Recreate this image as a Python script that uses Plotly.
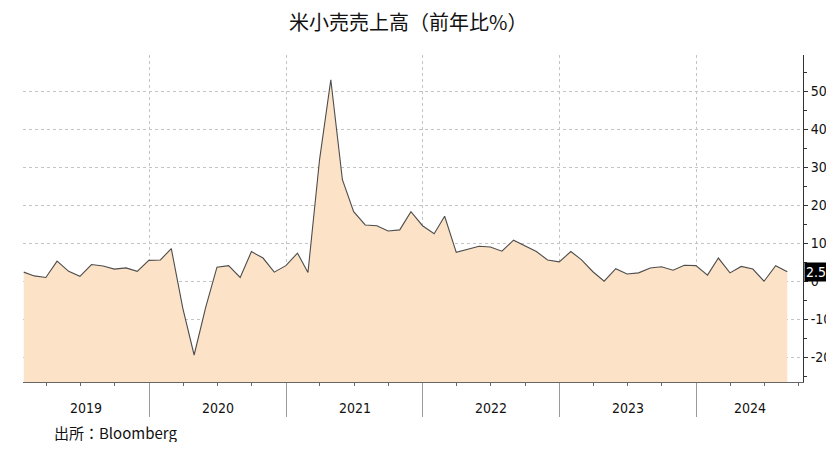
import pandas as pd
import plotly.graph_objects as go

# US retail sales, year-on-year %, monthly (month-end dates), Jan 2019 - Aug 2024
months = pd.date_range("2019-01-31", "2024-08-31", freq="ME")
yoy = [
    2.4, 1.4, 1.0, 5.3, 2.6, 1.3, 4.4, 4.0, 3.2, 3.5, 2.6, 5.5,          # 2019
    5.6, 8.6, -7.2, -19.4, -6.8, 3.7, 4.1, 1.0, 7.8, 6.1, 2.4, 4.1,      # 2020
    7.4, 2.3, 32.0, 53.0, 26.7, 18.3, 14.8, 14.6, 13.2, 13.5, 18.3, 14.6,  # 2021
    12.5, 17.1, 7.6, 8.3, 9.2, 9.0, 7.9, 10.8, 9.3, 7.8, 5.6, 5.1,      # 2022
    7.8, 5.7, 2.5, 0.0, 3.3, 1.9, 2.2, 3.5, 3.8, 2.9, 4.2, 4.1,         # 2023
    1.6, 6.1, 2.2, 3.9, 3.2, 0.0, 4.1, 2.5,                             # 2024
]
year_labels = ["2019", "2020", "2021", "2022", "2023", "2024"]
y_ticks = [-20, -10, 0, 10, 20, 30, 40, 50]
y_tick_labels = ["-20", "-10", "0", "10", "20", "30", "40", "50"]

TITLE = "米小売売上高（前年比%）"
SOURCE = "出所：Bloomberg"

Y_MIN, Y_MAX = -26.5, 59.5
X_MIN, X_MAX = pd.Timestamp("2019-01-29"), pd.Timestamp("2024-10-12")

FONT = "Tahoma, 'DejaVu Sans Condensed', 'DejaVu Sans', sans-serif"
CJK = "Noto Sans CJK JP, sans-serif"
FILL = "#FCE2C7"
LINE = "#4D4D4D"
GRID = "#C4C4C4"

fig = go.Figure()

# invisible baseline at the bottom of the plot so the area fills all the way down
fig.add_trace(go.Scatter(
    x=months, y=[Y_MIN] * len(months),
    mode="lines", line=dict(width=0), hoverinfo="skip", showlegend=False,
))
fig.add_trace(go.Scatter(
    x=months, y=yoy,
    mode="lines", line=dict(color=LINE, width=1.1),
    fill="tonexty", fillcolor=FILL, showlegend=False,
))

# year labels centred on the visible part of each year
annotations = []
for lab in year_labels:
    start = max(pd.Timestamp(f"{lab}-01-01"), X_MIN)
    end = min(pd.Timestamp(f"{int(lab) + 1}-01-01"), X_MAX)
    mid = start + (end - start) / 2
    annotations.append(dict(
        x=mid, xref="x", y=0, yref="paper", yanchor="middle", yshift=-26,
        text=lab, showarrow=False, font=dict(size=14, color="#111", family=FONT),
    ))

# last value tag on the right axis
annotations.append(dict(
    x=1, xref="paper", y=yoy[-1], yref="y", xanchor="left", xshift=1,
    text=f"{yoy[-1]:.1f}", showarrow=False, bgcolor="#000000",
    font=dict(size=14, color="#FFFFFF", family=FONT), borderpad=1,
))

annotations.append(dict(
    x=0, xref="paper", y=0, yref="paper", xanchor="left", yanchor="middle",
    xshift=29, yshift=-50, text=SOURCE, showarrow=False,
    font=dict(size=15, color="#111", family=CJK),
))

annotations.append(dict(
    x=0.494, xref="paper", y=1, yref="paper", xanchor="center", yanchor="middle",
    yshift=34, text=TITLE, showarrow=False,
    font=dict(size=20, color="#111", family=CJK),
))

# page body has an 8px margin: shrink the figure so the page does not scroll
fig.update_layout(
    width=826, height=434,
    paper_bgcolor="white", plot_bgcolor="white",
    margin=dict(l=15, r=31, t=47, b=60, autoexpand=False),
    font=dict(family=FONT, color="#111"),
    annotations=annotations,
    hovermode=False,
)

fig.update_xaxes(
    type="date", range=[X_MIN, X_MAX],
    showline=True, linecolor="#666", linewidth=1,
    dtick="M12", tick0="2019-01-01",
    ticks="outside", ticklen=34, tickcolor="#9A9A9A", tickwidth=1,
    showticklabels=False,
    showgrid=True, gridcolor=GRID, griddash="dot", gridwidth=1,
    minor=dict(dtick="M3", tick0="2019-01-01", ticks="outside", ticklen=3,
               tickcolor="#666", showgrid=False),
    zeroline=False, automargin=False,
)

fig.update_yaxes(
    range=[Y_MIN, Y_MAX], side="right",
    showline=True, linecolor="#333", linewidth=1,
    tickmode="array", tickvals=y_ticks, ticktext=y_tick_labels,
    ticks="outside", ticklen=4, tickcolor="#333",
    tickfont=dict(size=14, color="#111", family=FONT),
    showgrid=True, gridcolor=GRID, griddash="dot", gridwidth=1,
    minor=dict(dtick=5, ticks="outside", ticklen=3, tickcolor="#333", showgrid=False),
    zeroline=False, automargin=False,
)

fig.write_html("out.html")
